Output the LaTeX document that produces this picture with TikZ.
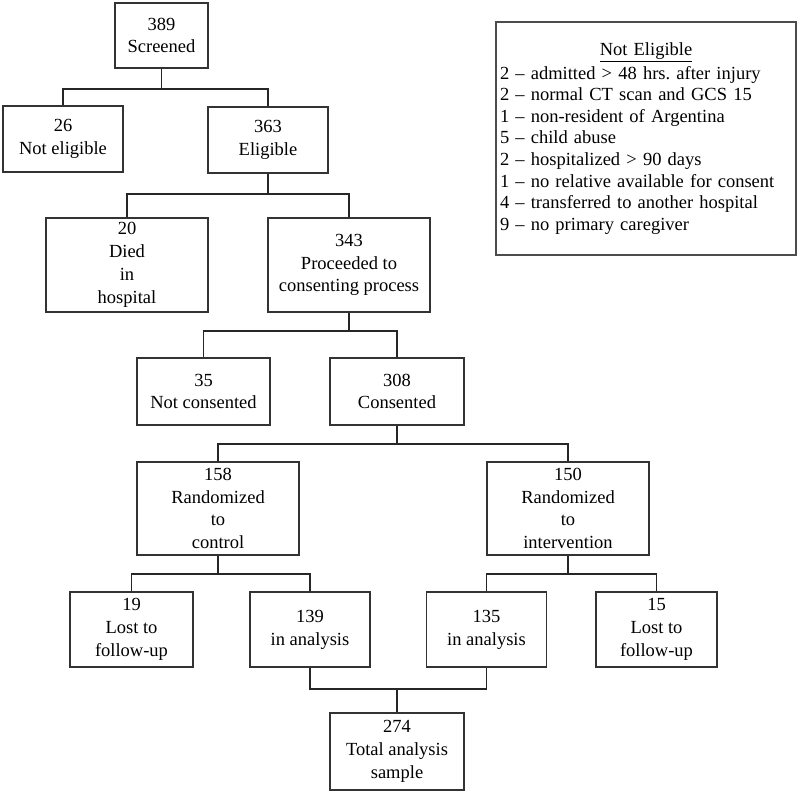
\documentclass[tikz,border=0pt]{standalone}
\usepackage{fontspec}
\setmainfont{Liberation Serif}
\frenchspacing

\begin{document}
\begin{tikzpicture}[x=1pt, y=-1pt]
            \tikzset{
                inner_node/.style={draw=black!80, shape = rectangle, line width=1.8pt, align=center, inner sep=2pt, font=\fontsize{18.5}{22.8}\selectfont},
                box_size/.style 2 args={minimum width=#1pt, minimum height=#2pt},
                note_box/.style={draw=black!70, shape = rectangle, line width=1.8pt, align=left, inner xsep=4pt, text width=292pt, minimum height=233pt, font=\fontsize{18.5}{21.6}\selectfont},
                link/.style={draw=black!85, line width=1.6pt}
            }
            \useasboundingbox (0,0) rectangle (800,792);
            \node[inner_node, box_size={93}{65}] (A) at (161.5,35.5) {389\\Screened};
            \node[inner_node, box_size={120}{66}] (B) at (63,139) {26\\Not eligible};
            \node[inner_node, box_size={120}{66}] (C) at (268,140) {363\\Eligible};
            \node[inner_node, box_size={162}{94}] (D) at (127,265) {20\\Died\\in\\hospital};
            \node[inner_node, box_size={162}{94}] (E) at (349,265) {343\\Proceeded to\\consenting process};
            \node[inner_node, box_size={133}{67}] (F) at (203.5,391.5) {35\\Not consented};
            \node[inner_node, box_size={134}{67}] (G) at (397,391.5) {308\\Consented};
            \node[inner_node, box_size={162}{93}] (H) at (218,508.5) {158\\Randomized\\to\\control};
            \node[inner_node, box_size={162}{93}] (I) at (568,508.5) {150\\Randomized\\to\\intervention};
            \node[inner_node, box_size={123}{75}] (J) at (131.5,629.5) {19\\Lost to\\follow-up};
            \node[inner_node, box_size={120}{75}] (K) at (310,629.5) {139\\in analysis};
            \node[inner_node, box_size={120}{75}] (L) at (486.5,629.5) {135\\in analysis};
            \node[inner_node, box_size={121}{75}] (M) at (656.5,629.5) {15\\Lost to\\follow-up};
            \node[inner_node, box_size={134}{77}] (N) at (397,751.5) {274\\Total analysis\\sample};
            \node[note_box] (O) at (646,138.5) {\centering\underline{Not Eligible}\par\vspace{2pt}\raggedright
                2 -- admitted > 48 hrs. after injury\\
                2 -- normal CT scan and GCS 15\\
                1 -- non-resident of Argentina\\
                5 -- child abuse\\
                2 -- hospitalized > 90 days\\
                1 -- no relative available for consent\\
                4 -- transferred to another hospital\\
                9 -- no primary caregiver};
            \draw[link] (A.south) -- ++(0,20) -| (B.north);
            \draw[link] (A.south) -- ++(0,20) -| (C.north);
            \draw[link] (C.south) -- ++(0,20) -| (D.north);
            \draw[link] (C.south) -- ++(0,20) -| (E.north);
            \draw[link] (E.south) -- ++(0,18) -| (F.north);
            \draw[link] (E.south) -- ++(0,18) -| (G.north);
            \draw[link] (G.south) -- ++(0,18) -| (H.north);
            \draw[link] (G.south) -- ++(0,18) -| (I.north);
            \draw[link] (H.south) -- ++(0,18) -| (J.north);
            \draw[link] (H.south) -- ++(0,18) -| (K.north);
            \draw[link] (I.south) -- ++(0,18) -| (L.north);
            \draw[link] (I.south) -- ++(0,18) -| (M.north);
            \draw[link] (K.south) -- ++(0,21) -| (N.north);
            \draw[link] (L.south) -- ++(0,21) -| (N.north);
        \end{tikzpicture}
\end{document}
